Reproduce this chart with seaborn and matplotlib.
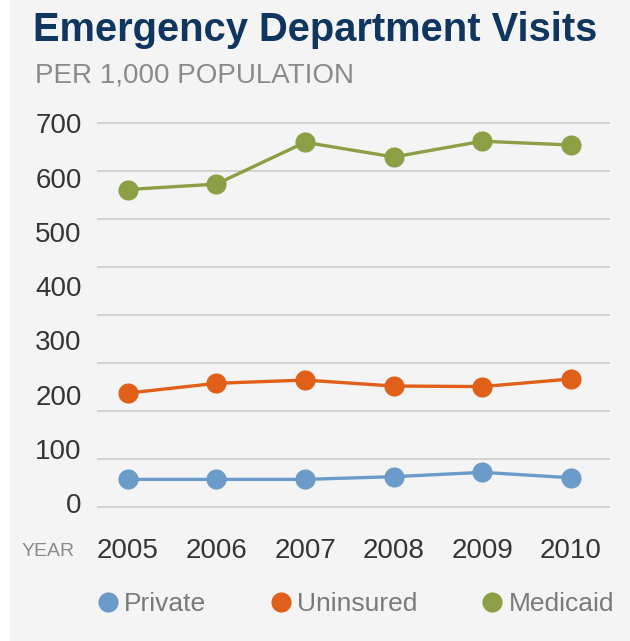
import matplotlib
matplotlib.use("Agg")
import matplotlib.pyplot as plt
import seaborn as sns
import pandas as pd
import numpy as np
from matplotlib.lines import Line2D
from matplotlib.patches import Rectangle
from matplotlib.ticker import FixedLocator

# ---- data ----
years = [2005, 2006, 2007, 2008, 2009, 2010]
private = [44, 44, 44, 49, 57, 47]
uninsured = [203, 221, 227, 216, 215, 229]
medicaid = [578, 588, 665, 638, 667, 660]
series_names = ["Private", "Uninsured", "Medicaid"]
y_ticks = [0, 100, 200, 300, 400, 500, 600, 700]
title = "Emergency Department Visits"
subtitle = "PER 1,000 POPULATION"

colors = {"Private": "#6b9bc8", "Uninsured": "#e0601a", "Medicaid": "#8c9f45"}

df = pd.DataFrame({
    "Year": years * 3,
    "Visits": private + uninsured + medicaid,
    "Coverage": [n for n in series_names for _ in years],
})

sns.set_theme(style="white")
plt.rcParams["font.family"] = ["Liberation Sans", "DejaVu Sans"]

W, H = 630, 641
fig = plt.figure(figsize=(W / 100, H / 100), dpi=100)
fig.patch.set_facecolor("white")
fig.patches.append(Rectangle((10 / W, 0), 620 / W, 1, transform=fig.transFigure,
                             facecolor="#f4f4f4", edgecolor="none", zorder=-10))

ax = fig.add_axes([97 / W, 0.2047, 513 / W, 0.6131])
ax.set_facecolor("none")

sns.lineplot(data=df, x="Year", y="Visits", hue="Coverage", palette=colors,
             marker="o", markersize=14.5, markeredgewidth=0, linewidth=2.4,
             ax=ax, legend=False, zorder=3)

ax.set_xlim(2005 - 0.346, 2010 + 0.44)
ax.set_ylim(-12, 712)
ax.set_yticks(y_ticks)
ax.set_xticks(years)
ax.set_xticklabels([str(y) for y in years])
ax.yaxis.remove_overlapping_locs = False
ax.yaxis.set_minor_locator(FixedLocator(np.linspace(-7.4, 700, 9)))
ax.grid(False)
ax.grid(which="minor", axis="y", color="#d2d2d2", linewidth=1.4)
for s in ax.spines.values():
    s.set_visible(False)
ax.tick_params(axis="y", which="both", length=0, pad=11, labelsize=20, labelcolor="#353535")
ax.tick_params(axis="x", length=0, pad=20, labelsize=20, labelcolor="#353535")
ax.set_xlabel("")
ax.set_ylabel("")

fig.text(33 / W, 1 - 30 / H, title, fontsize=28.7, fontweight="bold", color="#10365f",
         va="center", ha="left")
fig.text(35 / W, 1 - 76 / H, subtitle, fontsize=20, color="#8a8a8a",
         va="center", ha="left")
fig.text(22 / W, 1 - 552 / H, "YEAR", fontsize=14, color="#8a8a8a",
         va="center", ha="left")

handles = [Line2D([], [], marker="o", linestyle="none", color=colors[n],
                  markersize=14.5, markeredgewidth=0) for n in series_names]
fig.legend(handles, series_names, loc="center", bbox_to_anchor=(356 / W, 1 - 604 / H),
           ncol=3, frameon=False, columnspacing=2.45, handlelength=0.75,
           handletextpad=0.25, labelcolor="#7a7a7a", fontsize=19)

fig.savefig("out.png", dpi=100)
